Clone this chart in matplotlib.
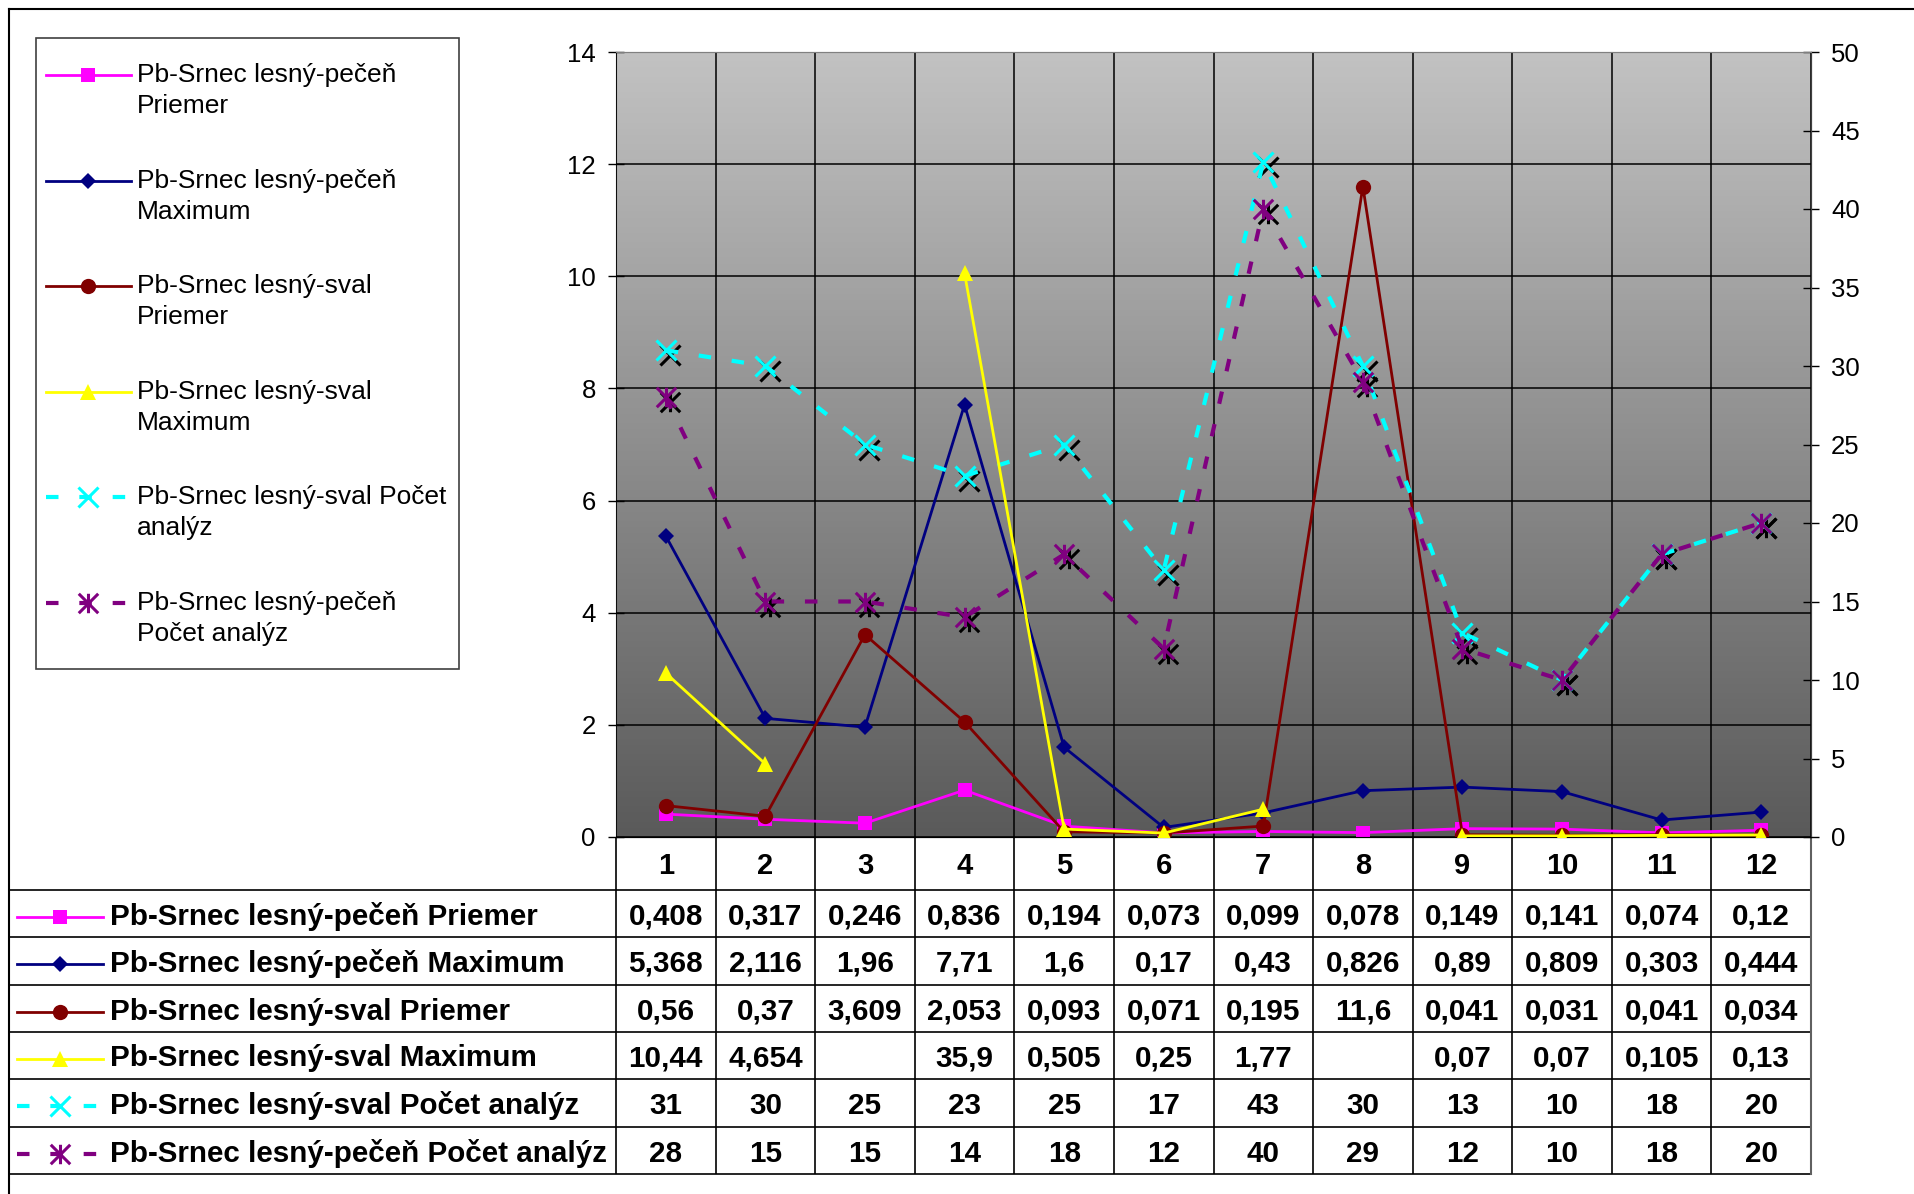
import numpy as np
import matplotlib
matplotlib.use("Agg")
import matplotlib.pyplot as plt
import matplotlib.transforms as mtransforms
from matplotlib.path import Path
from matplotlib.patches import Rectangle
from matplotlib.colors import LinearSegmentedColormap

plt.rcParams["font.family"] = ["Liberation Sans", "DejaVu Sans"]

# data
categories = [str(i) for i in range(1, 13)]
pecen_priemer = [0.408, 0.317, 0.246, 0.836, 0.194, 0.073, 0.099, 0.078, 0.149, 0.141, 0.074, 0.12]
pecen_maximum = [5.368, 2.116, 1.96, 7.71, 1.6, 0.17, 0.43, 0.826, 0.89, 0.809, 0.303, 0.444]
sval_priemer = [0.56, 0.37, 3.609, 2.053, 0.093, 0.071, 0.195, 11.6, 0.041, 0.031, 0.041, 0.034]
sval_maximum = [10.44, 4.654, None, 35.9, 0.505, 0.25, 1.77, None, 0.07, 0.07, 0.105, 0.13]
sval_pocet = [31, 30, 25, 23, 25, 17, 43, 30, 13, 10, 18, 20]
pecen_pocet = [28, 15, 15, 14, 18, 12, 40, 29, 12, 10, 18, 20]

series_names = [
    "Pb-Srnec lesný-pečeň Priemer",
    "Pb-Srnec lesný-pečeň Maximum",
    "Pb-Srnec lesný-sval Priemer",
    "Pb-Srnec lesný-sval Maximum",
    "Pb-Srnec lesný-sval Počet analýz",
    "Pb-Srnec lesný-pečeň Počet analýz",
]
legend_labels = [
    ["Pb-Srnec lesný-pečeň", "Priemer"],
    ["Pb-Srnec lesný-pečeň", "Maximum"],
    ["Pb-Srnec lesný-sval", "Priemer"],
    ["Pb-Srnec lesný-sval", "Maximum"],
    ["Pb-Srnec lesný-sval Počet", "analýz"],
    ["Pb-Srnec lesný-pečeň", "Počet analýz"],
]
left_ticks = list(range(0, 15, 2))
right_ticks = list(range(0, 51, 5))

# excel style asterisk marker (x with a vertical bar)
star = Path([(-1, -1), (1, 1), (-1, 1), (1, -1), (0, -1), (0, 1)],
            [Path.MOVETO, Path.LINETO, Path.MOVETO, Path.LINETO, Path.MOVETO, Path.LINETO])

dash = (0, (3, 5))
styles = [
    dict(color="#FF00FF", marker="s", ms=10, lw=2.0, ls="-", mew=0),
    dict(color="#000080", marker="D", ms=8.5, lw=2.0, ls="-", mew=0),
    dict(color="#800000", marker="o", ms=11, lw=2.0, ls="-", mew=0),
    dict(color="#FFFF00", marker="^", ms=11, lw=2.0, ls="-", mew=0),
    dict(color="#00FFFF", marker="x", ms=14, lw=3.0, ls=dash, mew=2.2),
    dict(color="#800080", marker=star, ms=14, lw=3.0, ls=dash, mew=2.2),
]

W, H = 1914, 1194


def box(x0, y0, x1, y1):
    return [x0 / W, 1 - y1 / H, (x1 - x0) / W, (y1 - y0) / H]


fig = plt.figure(figsize=(W / 100, H / 100), dpi=100)

over = fig.add_axes([0, 0, 1, 1], zorder=0)
over.set_xlim(0, W)
over.set_ylim(H, 0)
over.axis("off")

ax = fig.add_axes(box(616, 52, 1811, 837), zorder=1)
x = np.arange(1, 13)

grad = np.linspace(0, 1, 256).reshape(-1, 1)
cmap = LinearSegmentedColormap.from_list("bg", ["#c2c2c2", "#5a5a5a"])
ax.imshow(grad, extent=[0.5, 12.5, 0, 14], aspect="auto", cmap=cmap, zorder=0)
ax.set_xlim(0.5, 12.5)
ax.set_ylim(0, 14)
ax.set_yticks(left_ticks)
ax.set_xticks([])
ax.set_xticks(np.arange(0.5, 13, 1), minor=True)
ax.tick_params(axis="x", which="both", length=0, labelbottom=False)
ax.grid(True, which="minor", axis="x", color="black", lw=1.1, zorder=1)
ax.grid(True, which="major", axis="y", color="black", lw=1.1, zorder=1)
ax.set_axisbelow(False)
ax.tick_params(axis="y", direction="inout", length=11, width=1, labelsize=18.5, pad=9)
ax.spines["top"].set_color("#808080")
ax.spines["left"].set_color("#404040")
ax.spines["right"].set_color("#404040")
ax.spines["bottom"].set_color("black")

for vals, st in zip([pecen_priemer, pecen_maximum, sval_priemer], styles[:3]):
    ax.plot(x, vals, zorder=3, **st)

ax2 = ax.twinx()
ax2.set_ylim(0, 50)
ax2.set_yticks(right_ticks)
ax2.tick_params(axis="y", direction="inout", length=11, width=1, labelsize=18.5, pad=9)
ax2.spines["right"].set_color("#404040")
ax2.spines["top"].set_color("#808080")
ax2.spines["left"].set_visible(False)

# black shadow copies of the x / * markers, a few pixels lower right
shift = ax2.transData + mtransforms.ScaledTranslation(0.045, -0.05, fig.dpi_scale_trans)
ax2.plot(x, sval_pocet, ls="none", marker="x", ms=14, mew=2.2, color="black", transform=shift, zorder=2)
ax2.plot(x, pecen_pocet, ls="none", marker=star, ms=14, mew=2.2, color="black", transform=shift, zorder=2)

sval_max = np.array([np.nan if v is None else v for v in sval_maximum])
ax2.plot(x, sval_max, zorder=4, **styles[3])
ax2.plot(x, sval_pocet, zorder=3, **styles[4])
ax2.plot(x, pecen_pocet, zorder=3, **styles[5])

# outer border (only top / left visible in the original crop)
over.plot([9, 9], [9, H], color="black", lw=1.5)
over.plot([9, W], [9, 9], color="black", lw=1.5)

# legend box
over.add_patch(Rectangle((36, 38), 459 - 36, 669 - 38, facecolor="white", edgecolor="#404040", lw=1.2))
for i, (lab, st) in enumerate(zip(legend_labels, styles)):
    y = 75 + 105.6 * i
    kw = dict(st)
    kw.pop("marker")
    over.plot([46, 131], [y, y], **kw)
    over.plot([88], [y], ls="none", marker=st["marker"], ms=st["ms"], mew=st["mew"], color=st["color"])
    over.text(137, y, lab[0], fontsize=19, va="center", ha="left")
    over.text(137, y + 31, lab[1], fontsize=19, va="center", ha="left")

# data table under the plot
blend = mtransforms.blended_transform_factory(ax.transData, over.transData)
rows_y = [890, 937, 985, 1032, 1079, 1127, 1174]
over.hlines(rows_y, 9, 1811, color="black", lw=1.2)
over.vlines(np.arange(0.5, 13, 1), 837, 1174, color="black", lw=1.2, transform=blend)
over.plot([1811, 1811], [837, 1174], color="#606060", lw=1.5)

for xi, c in zip(x, categories):
    over.text(xi, 866, c, transform=blend, ha="center", va="center", fontsize=21, fontweight="bold")


def fmt(v):
    if v is None:
        return ""
    return "{:g}".format(v).replace(".", ",")


table_rows = [pecen_priemer, pecen_maximum, sval_priemer, sval_maximum, sval_pocet, pecen_pocet]
for r, (vals, name, st) in enumerate(zip(table_rows, series_names, styles)):
    yc = (rows_y[r] + rows_y[r + 1]) / 2 + 3
    kw = dict(st)
    kw.pop("marker")
    over.plot([17, 103], [yc, yc], **kw)
    over.plot([60], [yc], ls="none", marker=st["marker"], ms=st["ms"], mew=st["mew"], color=st["color"])
    over.text(110, yc, name, fontsize=21.3, fontweight="bold", ha="left", va="center")
    for xi, v in zip(x, vals):
        over.text(xi, yc, fmt(v), transform=blend, ha="center", va="center", fontsize=21.3, fontweight="bold")

fig.savefig("out.png", dpi=100)
